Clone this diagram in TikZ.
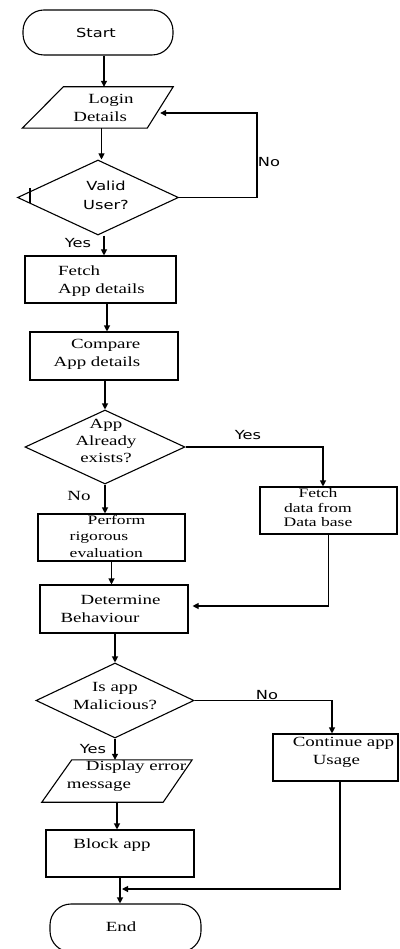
\documentclass[tikz,border=0pt]{standalone}
\usepackage{fontspec}
\newfontfamily\srf[FakeStretch=1.35]{Liberation Serif}
\newfontfamily\ssf[FakeStretch=1.3]{DejaVu Sans}
\usetikzlibrary{shapes.geometric,arrows.meta}
\begin{document}
\begin{tikzpicture}[x=1pt,y=-1pt,
  shp/.style={draw, line width=1.1pt, inner sep=0pt, rectangle},
  term/.style={shp, rounded corners=21pt},
  dia/.style={draw, line width=1.1pt, inner sep=0pt, diamond},
  ghost/.style={rectangle, inner sep=0pt},
  ln/.style={line width=1.1pt, line join=miter},
  tx/.style={font={\srf\fontsize{14}{18}\selectfont}, inner sep=0pt},
  txs/.style={font={\ssf\fontsize{12.5}{19}\selectfont}, inner sep=0pt},
  arr/.style={line width=1.1pt, -{Triangle[length=6pt,width=6pt]}}]
\useasboundingbox (0,0) rectangle (399,949);

% start
\node[term, minimum width=150pt, minimum height=45pt] (start) at (98,32.5) {};
\node[txs] (tstart) at (96,33) {Start};

% login
\node[ghost, minimum width=117pt, minimum height=41pt] (login) at (101.5,107.5) {};
\draw[ln] ([shift={(20.5,0)}]login.north west) -- ([shift={(13,0)}]login.north east) -- ([shift={(-13,0)}]login.south east) -- ([shift={(-20.5,0)}]login.south west) -- cycle;
\node[tx, align=left] (tlogin) at (103.5,108) {\hspace*{15pt}Login\\Details};

% valid
\node[dia, minimum width=161pt, minimum height=75pt] (valid) at (98,197.5) {};
\node[txs, align=center] (tvalid) at (106,195) {Valid\\User?};
\draw[ln] (30,188) -- (30,203);

% fetch
\node[shp, minimum width=151pt, minimum height=47pt] (fetch) at (100.5,279.5) {};
\node[tx, align=left] (tfetch) at (101.5,281) {Fetch\\App details};

% compare
\node[shp, minimum width=148pt, minimum height=48pt] (compare) at (104,356) {};
\node[tx, align=right] (tcompare) at (97,354) {Compare\\App details};

% exists
\node[dia, minimum width=160pt, minimum height=74pt] (exists) at (105,447) {};
\node[tx, align=center, font={\srf\fontsize{14}{17}\selectfont}] (texists) at (106,441) {App\\Already\\exists?};

% fetch db
\node[shp, minimum width=137pt, minimum height=47pt] (fdb) at (328.5,510.5) {};
\node[tx, align=center, font={\srf\fontsize{13}{14.5}\selectfont}] (tfdb) at (318,508) {Fetch\\data from\\Data base};

% perform
\node[shp, minimum width=147pt, minimum height=47pt] (perform) at (111.5,537.5) {};
\node[tx, align=left, font={\srf\fontsize{13}{16.5}\selectfont}] (tperform) at (107.5,536) {\hspace*{18pt}Perform\\rigorous\\evaluation};

% determine
\node[shp, minimum width=148pt, minimum height=48pt] (determine) at (114,609) {};
\node[tx, align=left] (tdet) at (110.5,609) {\hspace*{20pt}Determine\\Behaviour};

% malicious
\node[dia, minimum width=158pt, minimum height=75pt] (mal) at (115,700.5) {};
\node[tx, align=center] (tmal) at (115,696) {Is app\\Malicious?};

% continue
\node[shp, minimum width=125pt, minimum height=47pt] (cont) at (335.5,757.5) {};
\node[tx, align=left] (tcont) at (343.5,752) {Continue app\\\hspace*{20pt}Usage};

% display
\node[ghost, minimum width=120pt, minimum height=42pt] (disp) at (117,781) {};
\draw[ln] ([shift={(15,0)}]disp.north west) -- ([shift={(15,0)}]disp.north east) -- ([shift={(-14,0)}]disp.south east) -- ([shift={(-15,0)}]disp.south west) -- cycle;
\node[tx, align=left] (tdisp) at (126.5,776) {\hspace*{19pt}Display error\\message};

% block
\node[shp, minimum width=148pt, minimum height=47pt] (block) at (120,853.5) {};
\node[tx] (tblock) at (112,845) {Block app};

% end
\node[term, minimum width=151pt, minimum height=48pt] (end) at (125.5,928) {};
\node[tx] (tend) at (121,927) {End};

% labels
\node[txs] (lno1) at (269,162) {No};
\node[txs] (lyes1) at (78,243) {Yes};
\node[txs] (lyes2) at (248,435) {Yes};
\node[tx] (lno2) at (79,496) {No};
\node[txs] (lno3) at (267,695) {No};
\node[txs] (lyes3) at (93,749) {Yes};

% connectors
\coordinate (loopc) at (257,197.5);
\coordinate (merge) at (122,889);
\draw[arr] ([shift={(6,0)}]start.south) -- ([shift={(6,0)}]start.south |- login.north);
\draw[arr] (login.south) -- (login.south |- valid.north);
\draw[arr] (valid.east) -- (loopc) |- ([shift={(0,5.5)}]login.east);
\draw[arr] ([shift={(6,0)}]valid.south) -- ([shift={(6,0)}]valid.south |- fetch.north);
\draw[arr] ([shift={(6.5,0)}]fetch.south) -- ([shift={(6.5,0)}]fetch.south |- compare.north);
\draw[arr] (compare.south -| exists.north) -- (exists.north);
\draw[arr] (exists.east) -| ([shift={(-5.5,0)}]fdb.north);
\draw[arr] (exists.south) -- (exists.south |- perform.north);
\draw[arr] (perform.south) -- (perform.south |- determine.north);
\draw[arr] (fdb.south) |- ([shift={(4,-3)}]determine.east);
\draw[arr] (determine.south -| mal.north) -- (mal.north);
\draw[arr] (mal.east) -| ([shift={(-3.5,0)}]cont.north);
\draw[arr] (mal.south) -- (mal.south |- disp.north);
\draw[arr] (disp.south) -- (disp.south |- block.north);
\draw[arr] (block.south) -- (block.south |- end.north);
\draw[arr] ([shift={(4.5,0)}]cont.south) |- (merge);
\end{tikzpicture}
\end{document}
